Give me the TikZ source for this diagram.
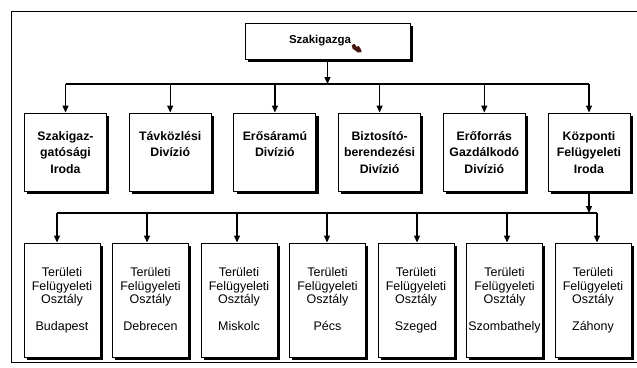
\documentclass[tikz,border=0pt]{standalone}
\usepackage{fontspec}
\setmainfont{Liberation Sans}
\usetikzlibrary{arrows.meta,shadows}
\begin{document}
\begin{tikzpicture}[x=1pt,y=-1pt,
  boxbase/.style={draw=black, line width=0.9pt, fill=white, inner sep=0pt,
    drop shadow={shadow xshift=2.6pt, shadow yshift=-2.6pt, fill=black, opacity=1}},
  topbox/.style={boxbase, minimum width=165pt, minimum height=36pt},
  divbox/.style={boxbase, minimum width=82pt, minimum height=78pt},
  osbox/.style={boxbase, minimum width=76pt, minimum height=114pt},
  divtxt/.style={anchor=north, inner sep=0pt, align=center,
    font=\fontsize{12.3}{16.5}\selectfont\bfseries},
  ostxt/.style={anchor=north, inner sep=0pt, align=center,
    font=\fontsize{12.5}{13.5}\selectfont},
  conn/.style={line width=1.2pt, draw=black},
  arr/.style={conn, -{Triangle[length=7pt,width=6pt]}}
]
\useasboundingbox (0,0) rectangle (637,367);
\fill[white] (0,0) rectangle (637,367);
% frame
\draw[line width=1pt] (637,11) -- (11,11) -- (11,362) -- (637,362);

% top
\node[topbox] (top) at (327.5,41) {};
\node[inner sep=0pt, font=\fontsize{11.5}{14}\selectfont\bfseries] (toptxt) at (320,41) {Szakigazga};
\fill[fill={rgb,255:red,70;green,20;blue,15}] ([xshift=0.5pt,yshift=-4pt]toptxt.east) -- +(3,-1) -- +(5,2) -- +(7,1) -- +(9,4) -- +(10,7) -- +(6,7.5) -- +(3,5) -- +(1,4) -- cycle;

% row 2
\node[divbox] (r1) at (65.5,152) {};
\node[divbox] (r2) at (170.2,152) {};
\node[divbox] (r3) at (274.9,152) {};
\node[divbox] (r4) at (379.6,152) {};
\node[divbox] (r5) at (484.3,152) {};
\node[divbox] (r6) at (589,152) {};
\node[divtxt] (t1) at (65.5,131) {Szakigaz-\\gatósági\\Iroda};
\node[divtxt] (t2) at (170.2,131) {Távközlési\\Divízió};
\node[divtxt] (t3) at (274.9,131) {Erősáramú\\Divízió};
\node[divtxt] (t4) at (379.6,131) {Biztosító-\\berendezési\\Divízió};
\node[divtxt] (t5) at (484.3,131) {Erőforrás\\Gazdálkodó\\Divízió};
\node[divtxt] (t6) at (589,131) {Központi\\Felügyeleti\\Iroda};

% bus 1
\coordinate (busA) at (0,84);
\draw[arr] (top.south) -- (top.south |- busA);
\draw[conn] (r1.north |- busA) -- (r6.north |- busA);
\foreach \i in {1,...,6} {
  \draw[arr] (r\i.north |- busA) -- (r\i.north);
}

% row 3
\node[osbox] (c1) at (62,300) {};
\node[osbox] (c2) at (150.5,300) {};
\node[osbox] (c3) at (239,300) {};
\node[osbox] (c4) at (327.5,300) {};
\node[osbox] (c5) at (416,300) {};
\node[osbox] (c6) at (504.5,300) {};
\node[osbox] (c7) at (593,300) {};
\node[ostxt] (u1) at (62,267.5) {Területi\\Felügyeleti\\Osztály\\[13.5pt]Budapest};
\node[ostxt] (u2) at (150.5,267.5) {Területi\\Felügyeleti\\Osztály\\[13.5pt]Debrecen};
\node[ostxt] (u3) at (239,267.5) {Területi\\Felügyeleti\\Osztály\\[13.5pt]Miskolc};
\node[ostxt] (u4) at (327.5,267.5) {Területi\\Felügyeleti\\Osztály\\[13.5pt]Pécs};
\node[ostxt] (u5) at (416,267.5) {Területi\\Felügyeleti\\Osztály\\[13.5pt]Szeged};
\node[ostxt] (u6) at (504.5,267.5) {Területi\\Felügyeleti\\Osztály\\[13.5pt]Szombathely};
\node[ostxt] (u7) at (593,267.5) {Területi\\Felügyeleti\\Osztály\\[13.5pt]Záhony};

% bus 2
\coordinate (d1) at (57,213);
\coordinate (d2) at (147,213);
\coordinate (d3) at (237,213);
\coordinate (d4) at (327,213);
\coordinate (d5) at (417,213);
\coordinate (d6) at (507,213);
\coordinate (d7) at (597,213);
\draw[arr] (r6.south) -- (r6.south |- d1);
\draw[conn] (d1) -- (d7);
\foreach \i in {1,...,7} {
  \draw[arr] (d\i) -- (d\i |- c\i.north);
}
\end{tikzpicture}
\end{document}
